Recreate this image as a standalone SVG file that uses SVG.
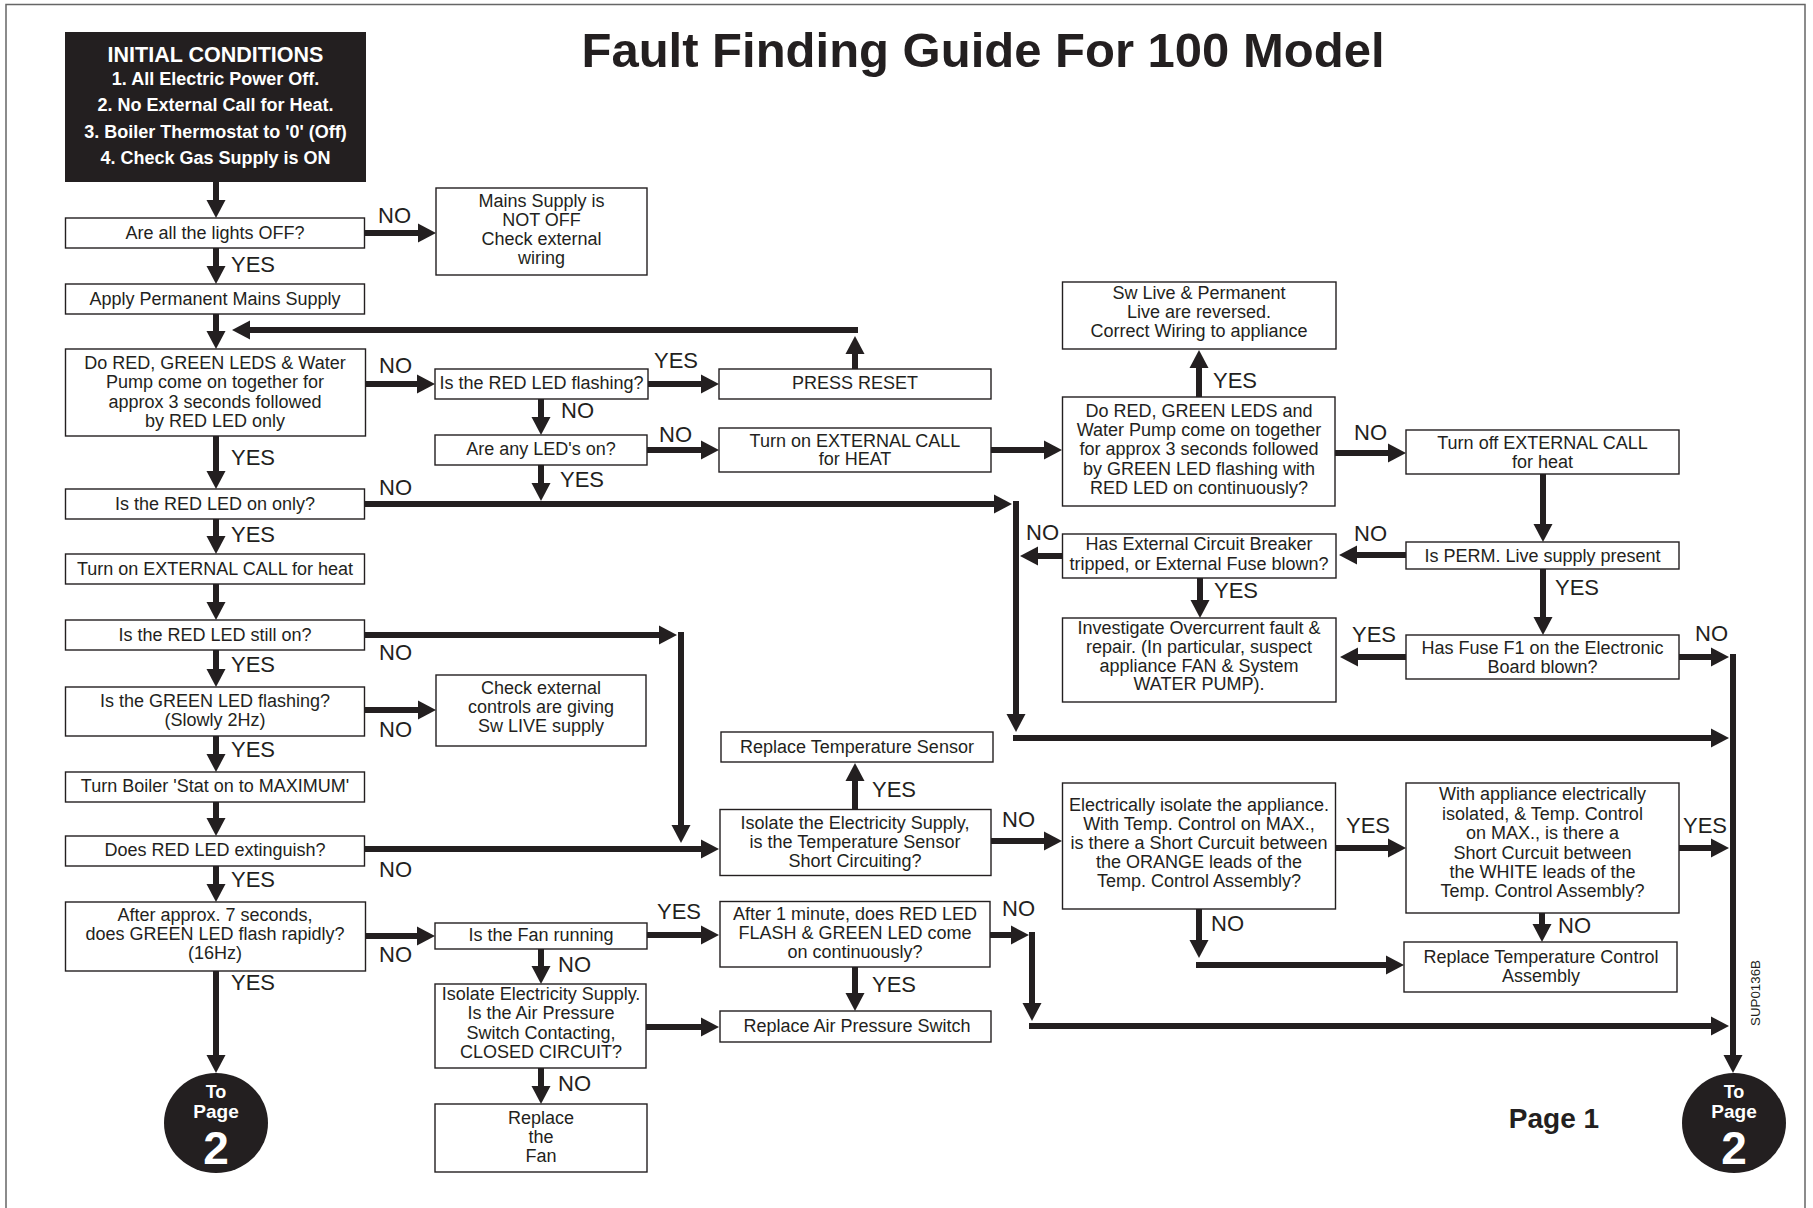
<svg xmlns="http://www.w3.org/2000/svg" width="1813" height="1208" viewBox="0 0 1813 1208">
<style>
text{font-family:"Liberation Sans",Arial,sans-serif;fill:#231f20}
.t{font-size:18px;text-anchor:middle}
.l{font-size:22px}
.w{fill:#fff;font-weight:bold;text-anchor:middle}
.b{fill:#fff;stroke:#231f20;stroke-width:1.4}
.c path{fill:none;stroke:#231f20;stroke-width:6;marker-end:url(#ah)}
</style>
<defs>
<marker id="ah" markerUnits="userSpaceOnUse" markerWidth="18" markerHeight="19" refX="0" refY="9.5" orient="auto" overflow="visible">
<path d="M0,0 L18,9.5 L0,19 z" fill="#231f20"/>
</marker>
</defs>
<rect width="1813" height="1208" fill="#fff"/>
<path d="M6,1210 V4.5 H1805 V1210" fill="none" stroke="#666" stroke-width="1.5"/>
<text x="983" y="67" style="font-size:49px;font-weight:bold;text-anchor:middle">Fault Finding Guide For 100 Model</text>

<g id="initial">
<rect x="65" y="32" width="301" height="150" fill="#231f20"/>
<text class="w" x="215.5" y="61.5" style="font-size:21.5px">INITIAL CONDITIONS</text>
<text class="w" x="215.5" y="85" style="font-size:18px">1. All Electric Power Off.</text>
<text class="w" x="215.5" y="111" style="font-size:18px">2. No External Call for Heat.</text>
<text class="w" x="215.5" y="137.5" style="font-size:18px">3. Boiler Thermostat to '0' (Off)</text>
<text class="w" x="215.5" y="164" style="font-size:18px">4. Check Gas Supply is ON</text>
</g>
<g id="n1"><rect class="b" x="65.5" y="218" width="299" height="30"/><text class="t" x="215" y="239">Are all the lights OFF?</text></g>
<g id="n2"><rect class="b" x="436" y="188" width="211" height="87"/><text class="t" x="541.5" y="206.5">Mains Supply is</text><text class="t" x="541.5" y="225.5">NOT OFF</text><text class="t" x="541.5" y="245">Check external</text><text class="t" x="541.5" y="263.5">wiring</text></g>
<g id="n3"><rect class="b" x="65.5" y="284" width="299" height="30"/><text class="t" x="215" y="305">Apply Permanent Mains Supply</text></g>
<g id="n4"><rect class="b" x="65.5" y="349" width="300" height="87"/><text class="t" x="215" y="368.5">Do RED, GREEN LEDS &amp; Water</text><text class="t" x="215" y="388">Pump come on together for</text><text class="t" x="215" y="407.5">approx 3 seconds followed</text><text class="t" x="215" y="427">by RED LED only</text></g>
<g id="n5"><rect class="b" x="435" y="369" width="213" height="30"/><text class="t" x="541.5" y="389">Is the RED LED flashing?</text></g>
<g id="n6"><rect class="b" x="719" y="369" width="272" height="30"/><text class="t" x="855" y="389">PRESS RESET</text></g>
<g id="n7"><rect class="b" x="435" y="435" width="212" height="30"/><text class="t" x="541" y="455">Are any LED's on?</text></g>
<g id="n8"><rect class="b" x="719" y="428" width="272" height="44"/><text class="t" x="855" y="446.5">Turn on EXTERNAL CALL</text><text class="t" x="855" y="465">for HEAT</text></g>
<g id="n9"><rect class="b" x="65.5" y="489" width="299" height="30"/><text class="t" x="215" y="509.5">Is the RED LED on only?</text></g>
<g id="n10"><rect class="b" x="65.5" y="554" width="299" height="30"/><text class="t" x="215" y="574.5">Turn on EXTERNAL CALL for heat</text></g>
<g id="n11"><rect class="b" x="65.5" y="620" width="299" height="30"/><text class="t" x="215" y="640.5">Is the RED LED still on?</text></g>
<g id="n12"><rect class="b" x="65.5" y="687" width="299" height="49"/><text class="t" x="215" y="706.5">Is the GREEN LED flashing?</text><text class="t" x="215" y="725.5">(Slowly 2Hz)</text></g>
<g id="n13"><rect class="b" x="436" y="675" width="210" height="71"/><text class="t" x="541" y="693.5">Check external</text><text class="t" x="541" y="712.5">controls are giving</text><text class="t" x="541" y="731.5">Sw LIVE supply</text></g>
<g id="n14"><rect class="b" x="65.5" y="772" width="299" height="30"/><text class="t" x="215" y="792">Turn Boiler 'Stat on to MAXIMUM'</text></g>
<g id="n15"><rect class="b" x="65.5" y="836" width="299" height="30"/><text class="t" x="215" y="856">Does RED LED extinguish?</text></g>
<g id="n16"><rect class="b" x="65.5" y="902" width="300" height="69"/><text class="t" x="215" y="921">After approx. 7 seconds,</text><text class="t" x="215" y="940">does GREEN LED flash rapidly?</text><text class="t" x="215" y="959">(16Hz)</text></g>
<g id="n17"><rect class="b" x="435" y="923" width="212" height="26"/><text class="t" x="541" y="941">Is the Fan running</text></g>
<g id="n18"><rect class="b" x="435" y="984" width="211" height="84"/><text class="t" x="541" y="1000">Isolate Electricity Supply.</text><text class="t" x="541" y="1019">Is the Air Pressure</text><text class="t" x="541" y="1038.5">Switch Contacting,</text><text class="t" x="541" y="1057.5">CLOSED CIRCUIT?</text></g>
<g id="n19"><rect class="b" x="435" y="1104" width="212" height="68"/><text class="t" x="541" y="1123.5">Replace</text><text class="t" x="541" y="1142.5">the</text><text class="t" x="541" y="1161.5">Fan</text></g>
<g id="n20"><rect class="b" x="721" y="732" width="272" height="30"/><text class="t" x="857" y="753">Replace Temperature Sensor</text></g>
<g id="n21"><rect class="b" x="720" y="809.5" width="271" height="66"/><text class="t" x="855" y="829">Isolate the Electricity Supply,</text><text class="t" x="855" y="848">is the Temperature Sensor</text><text class="t" x="855" y="866.5">Short Circuiting?</text></g>
<g id="n22"><rect class="b" x="720" y="901.5" width="270" height="65.5"/><text class="t" x="855" y="919.5">After 1 minute, does RED LED</text><text class="t" x="855" y="938.5">FLASH &amp; GREEN LED come</text><text class="t" x="855" y="957.5">on continuously?</text></g>
<g id="n23"><rect class="b" x="720" y="1011" width="271" height="31"/><text class="t" x="857" y="1032">Replace Air Pressure Switch</text></g>
<g id="n24"><rect class="b" x="1062.5" y="282" width="273.5" height="67"/><text class="t" x="1199" y="298.5">Sw Live &amp; Permanent</text><text class="t" x="1199" y="317.5">Live are reversed.</text><text class="t" x="1199" y="337">Correct Wiring to appliance</text></g>
<g id="n25"><rect class="b" x="1062.5" y="397" width="272.5" height="109"/><text class="t" x="1199" y="416.5">Do RED, GREEN LEDS and</text><text class="t" x="1199" y="436">Water Pump come on together</text><text class="t" x="1199" y="455">for approx 3 seconds followed</text><text class="t" x="1199" y="474.5">by GREEN LED flashing with</text><text class="t" x="1199" y="493.5">RED LED on continuously?</text></g>
<g id="n26"><rect class="b" x="1406" y="430" width="273" height="44"/><text class="t" x="1542.5" y="448.5">Turn off EXTERNAL CALL</text><text class="t" x="1542.5" y="468">for heat</text></g>
<g id="n27"><rect class="b" x="1062.5" y="534" width="273.5" height="44"/><text class="t" x="1199" y="550">Has External Circuit Breaker</text><text class="t" x="1199" y="569.5">tripped, or External Fuse blown?</text></g>
<g id="n28"><rect class="b" x="1406" y="542" width="273" height="27"/><text class="t" x="1542.5" y="562">Is PERM. Live supply present</text></g>
<g id="n29"><rect class="b" x="1062.5" y="618" width="273.5" height="84"/><text class="t" x="1199" y="634">Investigate Overcurrent fault &amp;</text><text class="t" x="1199" y="653">repair. (In particular, suspect</text><text class="t" x="1199" y="672">appliance FAN &amp; System</text><text class="t" x="1199" y="690">WATER PUMP).</text></g>
<g id="n30"><rect class="b" x="1406" y="635" width="273" height="44"/><text class="t" x="1542.5" y="653.5">Has Fuse F1 on the Electronic</text><text class="t" x="1542.5" y="672.5">Board blown?</text></g>
<g id="n31"><rect class="b" x="1062.5" y="783" width="273" height="126"/><text class="t" x="1199" y="811">Electrically isolate the appliance.</text><text class="t" x="1199" y="830">With Temp. Control on MAX.,</text><text class="t" x="1199" y="849">is there a Short Curcuit between</text><text class="t" x="1199" y="868">the ORANGE leads of the</text><text class="t" x="1199" y="887">Temp. Control Assembly?</text></g>
<g id="n32"><rect class="b" x="1406" y="783" width="273" height="130"/><text class="t" x="1542.5" y="800">With appliance electrically</text><text class="t" x="1542.5" y="820">isolated, &amp; Temp. Control</text><text class="t" x="1542.5" y="839">on MAX., is there a</text><text class="t" x="1542.5" y="858.5">Short Curcuit between</text><text class="t" x="1542.5" y="877.5">the WHITE leads of the</text><text class="t" x="1542.5" y="896.5">Temp. Control Assembly?</text></g>
<g id="n33"><rect class="b" x="1404" y="942" width="273" height="50"/><text class="t" x="1541" y="962.5">Replace Temperature Control</text><text class="t" x="1541" y="981.5">Assembly</text></g>
<g id="p2left"><ellipse cx="216" cy="1123" rx="52" ry="50" fill="#231f20"/><text class="w" x="216" y="1098" style="font-size:18px">To</text><text class="w" x="216" y="1118" style="font-size:19px">Page</text><text class="w" x="216" y="1164" style="font-size:46px">2</text></g>
<g id="p2right"><ellipse cx="1734" cy="1123" rx="52" ry="50" fill="#231f20"/><text class="w" x="1734" y="1098" style="font-size:18px">To</text><text class="w" x="1734" y="1118" style="font-size:19px">Page</text><text class="w" x="1734" y="1164" style="font-size:46px">2</text></g>
<text x="1554" y="1128" style="font-size:28px;font-weight:bold;text-anchor:middle">Page 1</text>
<text transform="translate(1760,993) rotate(-90)" style="font-size:13.3px;text-anchor:middle">SUP0136B</text>

<g class="c" id="connectors">
<path d="M216,182 V200"/>
<path d="M365,233 H418"/>
<path d="M216,248 V266"/>
<path d="M216,314 V331"/>
<path d="M858,330 H250"/>
<path d="M855,369 V354"/>
<path d="M366,384 H417"/>
<path d="M648,384 H701"/>
<path d="M541,399 V417"/>
<path d="M647,450 H701"/>
<path d="M541,465 V483"/>
<path d="M991,450 H1044"/>
<path d="M216,436 V471"/>
<path d="M365,504 H994"/>
<path d="M1016,501 V714"/>
<path d="M1013,738 H1711"/>
<path d="M216,519 V536"/>
<path d="M216,584 V602"/>
<path d="M365,635 H659"/>
<path d="M681,632 V825"/>
<path d="M216,650 V669"/>
<path d="M365,710 H418"/>
<path d="M216,736 V754"/>
<path d="M216,802 V818"/>
<path d="M365,849 H701"/>
<path d="M216,866 V884"/>
<path d="M366,936 H417"/>
<path d="M216,971 V1055"/>
<path d="M647,935 H701"/>
<path d="M541,949 V966"/>
<path d="M541,1068 V1086"/>
<path d="M646,1027 H701"/>
<path d="M855,967 V993"/>
<path d="M990,935 H1011"/>
<path d="M1032,932 V1003"/>
<path d="M1029,1026 H1711"/>
<path d="M855,809.5 V781"/>
<path d="M991,841 H1044"/>
<path d="M1336,848 H1388"/>
<path d="M1679,848 H1711"/>
<path d="M1542,913 V924"/>
<path d="M1199,909 V940"/>
<path d="M1196,965 H1386"/>
<path d="M1199,397 V368"/>
<path d="M1335,453 H1388"/>
<path d="M1543,474 V524"/>
<path d="M1406,555 H1357"/>
<path d="M1062,556 H1038"/>
<path d="M1200,578 V600"/>
<path d="M1543,569 V617"/>
<path d="M1406,657 H1358"/>
<path d="M1679,657 H1711"/>
<path d="M1733,654 V1055"/>
</g>

<g id="labels">
<text class="l" x="378" y="223">NO</text>
<text class="l" x="231" y="272">YES</text>
<text class="l" x="379" y="373">NO</text>
<text class="l" x="654" y="368">YES</text>
<text class="l" x="561" y="418">NO</text>
<text class="l" x="659" y="442">NO</text>
<text class="l" x="560" y="487">YES</text>
<text class="l" x="231" y="465">YES</text>
<text class="l" x="379" y="495">NO</text>
<text class="l" x="231" y="542">YES</text>
<text class="l" x="379" y="660">NO</text>
<text class="l" x="231" y="672">YES</text>
<text class="l" x="379" y="737">NO</text>
<text class="l" x="231" y="757">YES</text>
<text class="l" x="379" y="877">NO</text>
<text class="l" x="231" y="887">YES</text>
<text class="l" x="379" y="962">NO</text>
<text class="l" x="231" y="990">YES</text>
<text class="l" x="657" y="919">YES</text>
<text class="l" x="558" y="972">NO</text>
<text class="l" x="558" y="1091">NO</text>
<text class="l" x="872" y="992">YES</text>
<text class="l" x="1002" y="916">NO</text>
<text class="l" x="872" y="797">YES</text>
<text class="l" x="1002" y="827">NO</text>
<text class="l" x="1346" y="833">YES</text>
<text class="l" x="1683" y="833">YES</text>
<text class="l" x="1558" y="933">NO</text>
<text class="l" x="1211" y="931">NO</text>
<text class="l" x="1213" y="388">YES</text>
<text class="l" x="1354" y="440">NO</text>
<text class="l" x="1354" y="541">NO</text>
<text class="l" x="1026" y="540">NO</text>
<text class="l" x="1214" y="598">YES</text>
<text class="l" x="1555" y="595">YES</text>
<text class="l" x="1352" y="642">YES</text>
<text class="l" x="1695" y="641">NO</text>
</g>
</svg>
